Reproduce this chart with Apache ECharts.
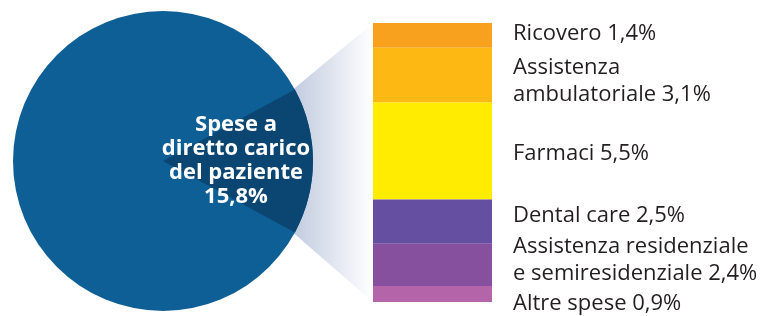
<!DOCTYPE html>
<html><head><meta charset="utf-8">
<script src="https://cdn.jsdelivr.net/npm/echarts@6/dist/echarts.min.js"></script>
<style>html,body{margin:0;padding:0;background:#fff}#c{width:777px;height:316px}</style>
</head><body><div id="c"></div>
<script>
// ---- data ----
const pieNames = ['Spese a\ndiretto carico\ndel paziente', 'Altro'];
const pieValues = [15.8, 84.2];
const pieLabelText = '15,8%';
const barNames = ['Ricovero', 'Assistenza\nambulatoriale', 'Farmaci', 'Dental care', 'Assistenza residenziale\ne semiresidenziale', 'Altre spese'];
const barValues = [1.4, 3.1, 5.5, 2.5, 2.4, 0.9];
const barValueLabels = ['1,4%', '3,1%', '5,5%', '2,5%', '2,4%', '0,9%'];

// ---- style ----
const barColors = ['#f8a11f', '#fdb813', '#ffec00', '#654fa0', '#87509e', '#b464a8'];
const labelNudge = [-2, 6, 3, -6, -5, 10];
const pieCenter = [163, 161], pieRadius = 150;
const gridBox = {left: 373, top: 23, width: 119, height: 279};
const FONT = 'Open Sans';

const total = barValues.reduce((a, b) => a + b, 0);
const pieTotal = pieValues[0] + pieValues[1];
const halfAngle = pieValues[0] / pieTotal * 180;

const chart = echarts.init(document.getElementById('c'), null, {renderer: 'canvas'});
const barSeries = barNames.map((n, i) => ({
  type: 'bar', name: n, stack: 'tot', barWidth: '100%',
  data: [barValues[i]],
  itemStyle: {color: barColors[i]},
  label: {
    show: true, position: 'right', distance: 21, align: 'left',
    offset: [0, labelNudge[i]],
    color: '#231f20', fontFamily: FONT, fontSize: 22, lineHeight: 27,
    formatter: () => n + ' ' + barValueLabels[i]
  },
  emphasis: {disabled: true}, silent: true, animation: false
}));

chart.setOption({
  animation: false,
  grid: {left: gridBox.left, top: gridBox.top, width: gridBox.width, height: gridBox.height},
  xAxis: {type: 'category', data: [''], show: false},
  yAxis: {type: 'value', min: 0, max: total, inverse: true, show: false},
  series: [{
    // full disc (whole spending)
    type: 'pie', center: pieCenter, radius: pieRadius, silent: true, animation: false,
    label: {show: false}, labelLine: {show: false},
    itemStyle: {borderWidth: 0},
    data: [{name: pieNames[1], value: pieTotal, itemStyle: {color: '#0e5f96'}}],
    z: 4
  }, {
    // out-of-pocket wedge
    type: 'pie', center: pieCenter, radius: pieRadius,
    startAngle: halfAngle, clockwise: true, silent: true, animation: false,
    labelLine: {show: false}, itemStyle: {borderWidth: 0},
    data: [
      {name: pieNames[0], value: pieValues[0], itemStyle: {color: '#0b4673'},
       label: {show: true, position: 'inner', color: '#fff', fontFamily: FONT, fontWeight: 'bold',
               fontSize: 22, lineHeight: 24, align: 'center', offset: [-5, 0],
               formatter: () => pieNames[0] + '\n' + pieLabelText}},
      {name: pieNames[1], value: pieValues[1], itemStyle: {color: 'rgba(0,0,0,0)'}, label: {show: false}}
    ],
    z: 5
  }].concat(barSeries)
});

// connector fan from wedge to bar
const a = halfAngle * Math.PI / 180;
const ex = pieCenter[0] + pieRadius * Math.cos(a);
const eyTop = pieCenter[1] - pieRadius * Math.sin(a);
const eyBot = pieCenter[1] + pieRadius * Math.sin(a);
const yTop = chart.convertToPixel({yAxisIndex: 0}, 0);
const yBot = chart.convertToPixel({yAxisIndex: 0}, total);
const xBar = gridBox.left;
chart.setOption({
  graphic: [{
    type: 'polygon', z: 0, silent: true,
    shape: {points: [[ex - 2, eyTop], [xBar, yTop], [xBar, yBot], [ex - 2, eyBot]]},
    style: {fill: new echarts.graphic.LinearGradient(0, 0, 1, 0, [
      {offset: 0, color: '#c1cbdf'}, {offset: 1, color: '#ffffff'}])}
  }]
});
</script></body></html>
